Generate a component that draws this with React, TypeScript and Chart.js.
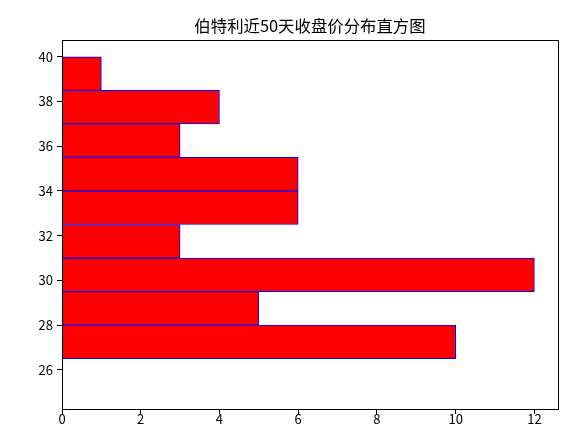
import React, { useEffect, useRef } from "react";
import { Chart, registerables } from "chart.js";

Chart.register(...registerables);

const binCenters = [25.75, 27.25, 28.75, 30.25, 31.75, 33.25, 34.75, 36.25, 37.75, 39.25];
const counts = [0, 10, 5, 12, 3, 6, 6, 3, 4, 1];
const yTicks = [26, 28, 30, 32, 34, 36, 38, 40];
const xTicks = [0, 2, 4, 6, 8, 10, 12];
const title = "伯特利近50天收盘价分布直方图";

const FONT = "'Noto Sans CJK SC', 'DejaVu Sans', sans-serif";

const framePlugin = {
  id: "frame",
  afterDraw(chart: any) {
    const { ctx, chartArea } = chart;
    ctx.save();
    ctx.strokeStyle = "#000";
    ctx.lineWidth = 1;
    ctx.strokeRect(
      Math.round(chartArea.left) + 0.5,
      Math.round(chartArea.top) + 0.5,
      Math.round(chartArea.right - chartArea.left),
      Math.round(chartArea.bottom - chartArea.top)
    );
    ctx.fillStyle = "#000";
    ctx.font = `16.4px ${FONT}`;
    ctx.textAlign = "center";
    ctx.textBaseline = "middle";
    ctx.fillText(title, (chartArea.left + chartArea.right) / 2, 26);
    ctx.restore();
  },
};

export default function App() {
  const ref = useRef<HTMLCanvasElement>(null);
  useEffect(() => {
    document.body.style.margin = "0";
    const chart = new Chart(ref.current!, {
      type: "bar",
      data: {
        datasets: [
          {
            data: binCenters.map((c, i) => ({ x: counts[i], y: c })),
            backgroundColor: "#ff0000",
            borderColor: "#0000ff",
            borderWidth: 1,
            borderSkipped: false,
            barPercentage: 1,
            categoryPercentage: 1,
          },
        ],
      },
      options: {
        indexAxis: "y",
        animation: false,
        responsive: false,
        maintainAspectRatio: false,
        layout: { padding: { left: 0, right: 30, top: 40, bottom: 0 } },
        plugins: {
          legend: { display: false },
          tooltip: { enabled: false },
          title: { display: false },
        },
        scales: {
          y: {
            type: "linear",
            min: 24.25,
            max: 40.75,
            offset: false,
            afterBuildTicks: (s: any) => {
              s.ticks = yTicks.map((v) => ({ value: v }));
            },
            afterFit: (s: any) => {
              s.width = 62;
            },
            ticks: {
              color: "#000",
              font: { family: FONT, size: 13 },
              padding: 4,
            },
            grid: {
              display: true,
              offset: false,
              drawOnChartArea: false,
              drawTicks: true,
              tickLength: 5,
              color: "#000",
            },
            border: { display: true, color: "#000" },
          },
          x: {
            type: "linear",
            min: 0,
            max: 12.6,
            offset: false,
            afterBuildTicks: (s: any) => {
              s.ticks = xTicks.map((v) => ({ value: v }));
            },
            afterFit: (s: any) => {
              s.height = 32;
            },
            ticks: {
              color: "#000",
              font: { family: FONT, size: 13 },
              padding: -3,
              maxRotation: 0,
            },
            grid: {
              display: true,
              offset: false,
              drawOnChartArea: false,
              drawTicks: true,
              tickLength: 5,
              color: "#000",
            },
            border: { display: true, color: "#000" },
          },
        },
      },
      plugins: [framePlugin],
    });
    return () => chart.destroy();
  }, []);
  return (
    <div style={{ width: 588, height: 441 }}>
      <canvas ref={ref} width={588} height={441} style={{ display: "block" }} />
    </div>
  );
}
